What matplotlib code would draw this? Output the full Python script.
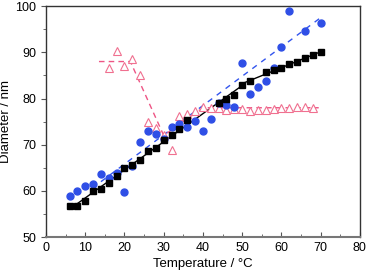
import numpy as np
import matplotlib
matplotlib.use("Agg")
import matplotlib.pyplot as plt
from matplotlib.ticker import MultipleLocator

plt.rcParams['font.family'] = ['Liberation Sans', 'DejaVu Sans']

# black squares
sq_t = [6, 8, 10, 12, 14, 16, 18, 20, 22, 24, 26, 28, 30, 32, 34, 36,
        44, 46, 48, 50, 52, 56, 58, 60, 62, 64, 66, 68, 70]
sq_d = [56.8, 56.8, 57.8, 59.9, 60.4, 61.8, 63.2, 65.0, 65.6, 66.7, 68.6, 69.3, 71.0, 72.2, 73.5, 75.4,
        79.1, 79.8, 80.8, 82.9, 83.8, 85.8, 86.1, 86.7, 87.4, 88.0, 88.7, 89.4, 90.0]

# blue circles
ci_t = [6, 8, 10, 12, 14, 16, 18, 20, 22, 24, 26, 28, 30, 32, 34, 36, 38, 40, 42,
        44, 46, 48, 50, 52, 54, 56, 58, 60, 62, 66, 70]
ci_d = [58.9, 60.0, 61.0, 61.5, 63.7, 62.7, 63.8, 59.7, 65.3, 70.5, 72.9, 72.3, 71.3, 73.8, 74.5, 73.9, 75.2, 73.0, 75.6,
        79.0, 78.7, 78.1, 87.6, 81.0, 82.4, 83.8, 86.5, 91.1, 98.9, 94.6, 96.3]

# pink triangles
tr_t = [16, 18, 20, 22, 24, 26, 28, 30, 32, 34, 36, 38, 40, 42, 44, 46, 48, 50,
        52, 54, 56, 58, 60, 62, 64, 66, 68]
tr_d = [86.5, 90.3, 87.1, 88.6, 85.1, 75.0, 73.7, 72.1, 68.9, 76.2, 76.7, 77.4, 78.2, 78.0, 77.9, 77.6, 77.7, 77.8,
        77.4, 77.5, 77.6, 77.7, 77.9, 78.0, 78.2, 78.2, 77.9]

# guide lines
guide_t = [13.5, 21.5, 30, 40, 69.5]
guide_d = [88.0, 88.0, 72.0, 78.0, 78.0]
blue_fit_t = [14, 70]
blue_fit_d = [62.0, 97.5]

fig = plt.figure(figsize=(3.68, 2.77), dpi=100)
ax = fig.add_axes([0.125, 0.144, 0.853, 0.834])

sq_t = np.array(sq_t); sq_d = np.array(sq_d)

# black fit, two segments
lo = sq_t <= 50
p1 = np.polyfit(sq_t[lo], sq_d[lo], 1)
hi = sq_t >= 50
p2 = np.polyfit(sq_t[hi], sq_d[hi], 1)
tx1 = np.array([6, 50]); tx2 = np.array([50, 70])
ax.plot(tx1, np.polyval(p1, tx1), color='black', lw=1.0, zorder=2)
ax.plot(tx2, np.polyval(p2, tx2), color='black', lw=1.0, zorder=2)

ax.plot(blue_fit_t, blue_fit_d, color='#3355ee', lw=1.0, ls=(0, (4, 4)), zorder=2)
ax.plot(guide_t, guide_d, color='#ee5585', lw=1.0, ls=(0, (4, 3)), zorder=2)

ax.plot(tr_t, tr_d, ls='none', marker='^', ms=5.5, mfc='white', mec='#f07090', mew=0.8, zorder=3)
ax.plot(ci_t, ci_d, ls='none', marker='o', ms=5, color='#2f4fe6', zorder=4)
ax.plot(sq_t, sq_d, ls='none', marker='s', ms=4.8, color='black', zorder=5)

ax.set_xlim(0, 80)
ax.set_ylim(50, 100)
ax.xaxis.set_major_locator(MultipleLocator(10))
ax.xaxis.set_minor_locator(MultipleLocator(5))
ax.yaxis.set_major_locator(MultipleLocator(10))
ax.yaxis.set_minor_locator(MultipleLocator(5))
ax.tick_params(axis='x', which='both', direction='in', labelsize=9, color='#555555')
ax.tick_params(axis='y', which='both', direction='out', labelsize=9, color='#555555')
ax.tick_params(which='major', length=3.5)
ax.tick_params(which='minor', length=2)
for s in ax.spines.values():
    s.set_color('#333333')
    s.set_linewidth(1.0)
ax.spines['bottom'].set_color('#777777')
ax.spines['bottom'].set_linewidth(1.5)

ax.set_xlabel('Temperature / °C', fontsize=9.5, labelpad=3)
ax.set_ylabel('Diameter / nm', fontsize=9.5, labelpad=2)

fig.savefig('out.png', dpi=100)
